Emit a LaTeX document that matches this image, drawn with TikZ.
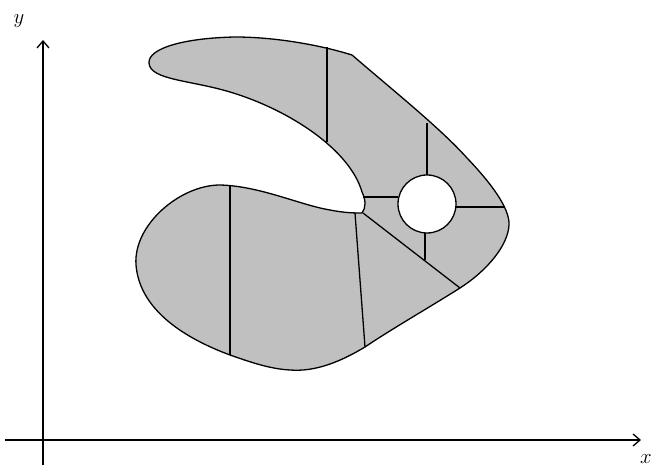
\documentclass[tikz,border=0pt]{standalone}
\usetikzlibrary{arrows.meta}
\begin{document}
\begin{tikzpicture}[x=1pt,y=-1pt,
  region/.style={fill={rgb,255:red,192;green,192;blue,192}, draw=black, line width=1.3pt, line join=round},
  cut/.style={draw=black, line width=1.3pt},
  axis/.style={draw=black, line width=1.3pt, -{Straight Barb[length=7pt,width=12pt,line width=1.3pt]}},
  lbl/.style={font=\fontsize{22}{22}\selectfont, inner sep=0pt}]
\useasboundingbox (0,0) rectangle (654,470);
\path[region] (352,55) .. controls (395,92) and (440,128) .. (467,158)
 .. controls (490,182) and (510,208) .. (509,225)
 .. controls (508,245) and (488,270) .. (460,288)
 .. controls (430,307) and (390,330) .. (365,347)
 .. controls (340,362) and (315,372) .. (290,370)
 .. controls (270,369) and (250,362) .. (230,355)
 .. controls (195,342) and (140,315) .. (136,265)
 .. controls (133,225) and (180,185) .. (220,185)
 .. controls (260,186) and (300,205) .. (330,210)
 .. controls (345,213) and (355,213) .. (362,213)
 .. controls (366,208) and (366,200) .. (362,192)
 .. controls (350,150) and (290,110) .. (230,92)
 .. controls (190,80) and (150,80) .. (149,63)
 .. controls (148,48) and (185,38) .. (235,37)
 .. controls (275,37) and (320,45) .. (352,55) -- cycle;
\coordinate (a1) at (327,47); \coordinate (a2) at (327,142);
\coordinate (b1) at (230,186); \coordinate (b2) at (230,355);
\coordinate (c1) at (355,213); \coordinate (c2) at (365,347);
\coordinate (d1) at (363,213); \coordinate (d2) at (460,288);
\coordinate (e1) at (363,197); \coordinate (e2) at (398,197);
\coordinate (f1) at (427,123); \coordinate (f2) at (427,176);
\coordinate (g1) at (456,207); \coordinate (g2) at (505,207);
\coordinate (h1) at (425,233); \coordinate (h2) at (425,260);
\draw[cut] (a1) -- (a2);
\draw[cut] (b1) -- (b2);
\draw[cut] (c1) -- (c2);
\draw[cut] (d1) -- (d2);
\draw[cut] (e1) -- (e2);
\draw[cut] (f1) -- (f2);
\draw[cut] (g1) -- (g2);
\draw[cut] (h1) -- (h2);
\node[circle, minimum size=58pt, inner sep=0pt, fill=white, draw=black, line width=1.3pt] (hole) at (427,204) {};
\coordinate (yb) at (43,465); \coordinate (yt) at (43,40);
\coordinate (xl) at (5,440); \coordinate (xr) at (641,440);
\draw[axis] (yb) -- (yt);
\draw[axis] (xl) -- (xr);
\node[lbl] (ylab) at (19,21) {$y$};
\node[lbl] (xlab) at (646,459) {$x$};
\end{tikzpicture}
\end{document}
